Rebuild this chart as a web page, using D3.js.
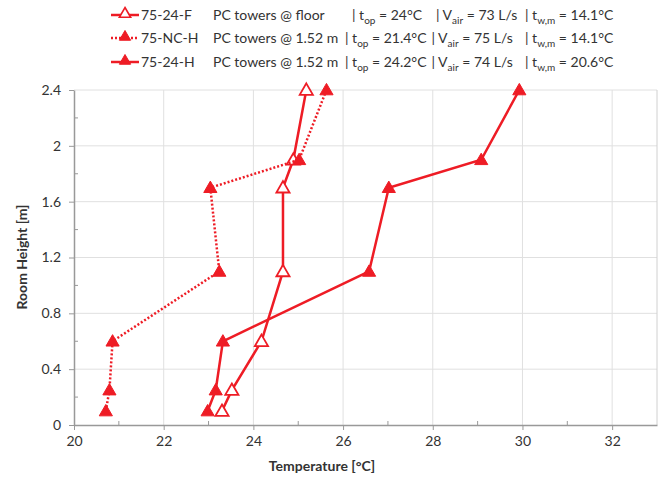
<!DOCTYPE html>
<html>
<head>
<meta charset="utf-8">
<title>Room height vs temperature</title>
<script src="https://d3js.org/d3.v7.min.js"></script>
<style>
  body { margin: 0; background: #fff; }
  text { font-family: Lato, "Open Sans", sans-serif; fill: #333; }
</style>
</head>
<body>
<svg id="viz" width="662" height="480"></svg>
<script>
// measured heights [m]
var heights = [0.1, 0.25, 0.6, 1.1, 1.7, 1.9, 2.4];
// temperatures [°C] for each case
var tempF  = [23.30, 23.52, 24.18, 24.66, 24.66, 24.89, 25.18];
var tempNC = [20.71, 20.79, 20.86, 23.24, 23.04, 25.02, 25.63];
var tempH  = [22.98, 23.16, 23.32, 26.58, 27.02, 29.08, 29.93];

var xTicks = [20, 22, 24, 26, 28, 30, 32];
var yTicks = [0, 0.4, 0.8, 1.2, 1.6, 2, 2.4];

// legend text
var seriesNames = ["75-24-F", "75-NC-H", "75-24-H"];
var seriesDesc  = ["PC towers @ floor", "PC towers @ 1.52 m", "PC towers @ 1.52 m"];
var tOp  = ["24", "21.4", "24.2"];
var vAir = ["73", "75", "74"];
var tWm  = ["14.1", "14.1", "20.6"];

var red = "#ee1c25";
var series = [
  { name: seriesNames[0], temps: tempF,  dash: null,  open: true },
  { name: seriesNames[1], temps: tempNC, dash: "2,2", open: false },
  { name: seriesNames[2], temps: tempH,  dash: null,  open: false }
];

var svg = d3.select("#viz");
var x = d3.scaleLinear().domain([20, 33]).range([74, 657]);
var y = d3.scaleLinear().domain([0, 2.4]).range([425, 90]);

// gridlines
svg.append("g").selectAll("line").data(xTicks.slice(1))
  .enter().append("line")
  .attr("x1", function(d){ return x(d); }).attr("x2", function(d){ return x(d); })
  .attr("y1", y(0)).attr("y2", y(2.4))
  .attr("stroke", "#e0e0e0").attr("stroke-width", 1);
svg.append("g").selectAll("line").data(yTicks.slice(1))
  .enter().append("line")
  .attr("x1", x(20)).attr("x2", x(33))
  .attr("y1", function(d){ return y(d); }).attr("y2", function(d){ return y(d); })
  .attr("stroke", "#e0e0e0").attr("stroke-width", 1);
// right border
svg.append("line").attr("x1", x(33)).attr("x2", x(33)).attr("y1", y(0)).attr("y2", y(2.4))
  .attr("stroke", "#d0d0d0");

// minor ticks (inside)
svg.append("g").selectAll("line").data(d3.range(21, 33, 2))
  .enter().append("line")
  .attr("x1", function(d){ return x(d); }).attr("x2", function(d){ return x(d); })
  .attr("y1", y(0)).attr("y2", y(0) - 4)
  .attr("stroke", "#999");
svg.append("g").selectAll("line").data(d3.range(0.2, 2.4, 0.4))
  .enter().append("line")
  .attr("x1", x(20)).attr("x2", x(20) + 4)
  .attr("y1", function(d){ return y(d); }).attr("y2", function(d){ return y(d); })
  .attr("stroke", "#999");

// axes
var xAxis = svg.append("g").attr("transform", "translate(0," + y(0) + ")")
  .call(d3.axisBottom(x).tickValues(xTicks).tickSize(5).tickPadding(6).tickSizeOuter(0));
var yAxis = svg.append("g").attr("transform", "translate(" + x(20) + ",0)")
  .call(d3.axisLeft(y).tickValues(yTicks).tickSize(5).tickPadding(8).tickSizeOuter(0)
    .tickFormat(function(d){ return d3.format("")(+d.toFixed(1)); }));
[xAxis, yAxis].forEach(function(a){
  a.select(".domain").attr("stroke", "#999").attr("stroke-width", 1.5);
  a.selectAll(".tick line").attr("stroke", "#999");
  a.selectAll(".tick text").attr("font-size", 14).attr("fill", "#333")
    .style("font-family", "Lato, sans-serif");
});

// axis titles
svg.append("text").attr("x", 322).attr("y", 471).attr("text-anchor", "middle")
  .attr("font-size", 14).attr("font-weight", "bold").attr("fill", "#222")
  .text("Temperature [°C]");
svg.append("text").attr("transform", "translate(27,257) rotate(-90)")
  .attr("text-anchor", "middle")
  .attr("font-size", 14).attr("font-weight", "bold").attr("fill", "#222")
  .text("Room Height [m]");

var tri = d3.symbol().type(d3.symbolTriangle).size(75);
var line = d3.line()
  .x(function(d){ return x(d[0]); })
  .y(function(d){ return y(d[1]); });

series.forEach(function(s){
  var pts = s.temps.map(function(t, i){ return [t, heights[i]]; });
  svg.append("path").datum(pts)
    .attr("d", line)
    .attr("fill", "none")
    .attr("stroke", red)
    .attr("stroke-width", 2.5)
    .attr("stroke-dasharray", s.dash);
  svg.append("g").selectAll("path").data(pts)
    .enter().append("path")
    .attr("d", tri)
    .attr("transform", function(d){ return "translate(" + x(d[0]) + "," + (y(d[1]) + 1) + ")"; })
    .attr("fill", s.open ? "#fff" : red)
    .attr("stroke", red)
    .attr("stroke-width", s.open ? 1.8 : 1);
});

// legend: segments flow left to right, but never start before their column
var rowY = [20, 43, 67];
var colX = [[213, 352, 436, 525], [213, 345, 430, 525], [213, 345, 430, 525]];
var gap = 5;
var fs = 14;
var legTri = d3.symbol().type(d3.symbolTriangle).size(55);

function addSub(g, xPos, yPos, pre, sub, post) {
  var t = g.append("text").attr("x", xPos).attr("y", yPos).attr("font-size", fs);
  t.append("tspan").text(pre);
  t.append("tspan").attr("font-size", 10).attr("dy", 4).text(sub);
  t.append("tspan").attr("dy", -4).text(post);
  return t;
}

series.forEach(function(s, i){
  var g = svg.append("g");
  var cy = rowY[i] - 5;
  g.append("line").attr("x1", 111).attr("x2", 139).attr("y1", cy).attr("y2", cy)
    .attr("stroke", red).attr("stroke-width", 2.5).attr("stroke-dasharray", s.dash);
  g.append("path").attr("d", legTri)
    .attr("transform", "translate(125," + (cy - 1) + ")")
    .attr("fill", s.open ? "#fff" : red).attr("stroke", red)
    .attr("stroke-width", s.open ? 1.6 : 1);
  g.append("text").attr("x", 141).attr("y", rowY[i]).attr("font-size", fs).text(s.name);

  var cols = colX[i];
  var t0 = g.append("text").attr("x", cols[0]).attr("y", rowY[i]).attr("font-size", fs).text(seriesDesc[i]);
  var end = cols[0] + t0.node().getComputedTextLength();

  var x1 = Math.max(cols[1], end + gap);
  var t1 = addSub(g, x1, rowY[i], "| t", "op", " = " + tOp[i] + "°C");
  end = x1 + t1.node().getComputedTextLength();

  var x2 = Math.max(cols[2], end + gap);
  var t2 = addSub(g, x2, rowY[i], "| V", "air", " = " + vAir[i] + " L/s");
  end = x2 + t2.node().getComputedTextLength();

  var x3 = Math.max(cols[3], end + gap);
  addSub(g, x3, rowY[i], "| t", "w,m", " = " + tWm[i] + "°C");
});
</script>
</body>
</html>
